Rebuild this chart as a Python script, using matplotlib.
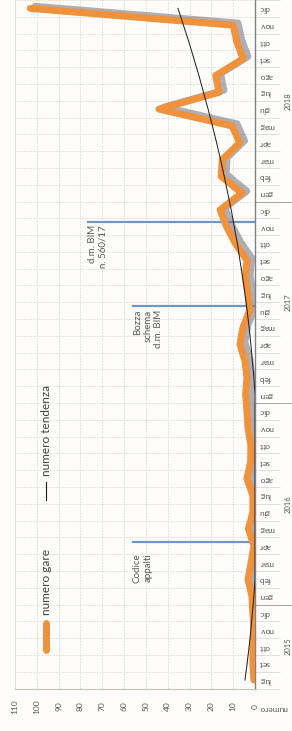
import matplotlib
matplotlib.use('Agg')
import matplotlib.pyplot as plt
import matplotlib.patheffects as pe
import matplotlib.transforms as mtransforms
from matplotlib.lines import Line2D
import numpy as np

# data (months jul 2015 - dec 2018, ago 2015 missing in the source)
months = ['lug', 'set', 'ott', 'nov', 'dic'] + \
         ['gen', 'feb', 'mar', 'apr', 'mag', 'giu', 'lug', 'ago', 'set', 'ott', 'nov', 'dic'] * 3
years = ['2015', '2016', '2017', '2018']
months_per_year = [5, 12, 12, 12]

gare_2015 = [0.5, 1, 1, 0.5, 1]
gare_2016 = [1.4, 3.2, 1.8, 0.5, 3, 1, 1, 3.7, 2, 1.9, 3.2, 3.7]
gare_2017 = [4.3, 3.7, 4.6, 6.9, 5.5, 2.5, 3.2, 4.5, 3.7, 9, 13, 16]
gare_2018 = [6, 15.5, 15, 7, 10.5, 44, 16.5, 18, 5.5, 8.3, 10, 103]
gare = gare_2015 + gare_2016 + gare_2017 + gare_2018

tendenza = [4.6, 3.6, 2.7, 1.9, 1.2, 0.5, 0, 0, 0, 0, 0, 0, 0, 0, 0, 0, 0,
            0, 0.5, 1.2, 1.9, 2.7, 3.6, 4.6, 5.7, 6.9, 8.1, 9.5, 10.9,
            12.5, 14.1, 15.8, 17.6, 19.5, 21.5, 23.6, 25.7, 28.0, 30.3, 32.8, 35.3]

event_labels = ['Codice\nappalti', 'Bozza\nschema\nd.m. BIM', 'd.m. BIM\nn. 560/17']
event_month = [8.25, 22.3, 27.3]
event_height = [56, 56, 76.5]

W, H = 292, 731
orange = '#f0923b'
blue = '#7096c8'
gridc = '#e0d8ce'

plt.rcParams['font.family'] = ['Lato', 'DejaVu Sans']

fig = plt.figure(figsize=(W / 100, H / 100), dpi=100, facecolor='#fefdfb')
ax = fig.add_axes([15 / W, 1 - 688.5 / H, 240 / W, 688.5 / H])
ax.set_facecolor('#fefdfb')

idx = np.arange(len(months))

# serie principale con ombra
ax.plot(gare, idx, color=orange, lw=5, solid_joinstyle='round', solid_capstyle='round',
        path_effects=[pe.SimpleLineShadow(offset=(3.5, 1.5), shadow_color='#6e6e7a', alpha=0.55),
                      pe.Normal()], zorder=4)
ax.plot(tendenza, idx, color='#1a1a1a', lw=0.7, zorder=5)

# eventi
text_gap = [0.7, 0.25, 0.2]
for lab, m, h, g in zip(event_labels, event_month, event_height, text_gap):
    ax.plot([0, h], [m, m], color=blue, lw=1.6, zorder=3)
    ax.text(h, m - g, lab, rotation=90, ha='left', va='top', multialignment='right',
            fontsize=7, color='#595959')

ax.set_xlim(110, 0)
ax.set_ylim(-0.5, -0.5 + 688.5 / 16.95)

ax.set_xticks(range(0, 111, 10))
ax.grid(axis='x', color=gridc, lw=0.6, ls=(0, (2, 1.5)))
ax.set_yticks(idx)
ax.set_yticklabels(months)
ax.set_yticks(np.arange(-0.5, len(months), 1), minor=True)
ax.grid(axis='y', which='minor', color=gridc, lw=0.6, ls=(0, (2, 1.5)))
ax.yaxis.tick_right()
ax.tick_params(axis='y', which='major', length=0, pad=3, labelsize=6, labelrotation=180,
               labelcolor='#595959')
ax.tick_params(axis='y', which='minor', length=18, width=0.6, color='#d9d9d9', right=True, left=False)
ax.tick_params(axis='x', length=0, pad=13, labelsize=6, labelrotation=90, labelcolor='#595959')
for t in ax.get_xticklabels():
    t.set_va('center')

ax.spines['top'].set_visible(False)
ax.spines['left'].set_color(gridc)
ax.spines['left'].set_linewidth(0.6)
ax.spines['bottom'].set_color('#c8c0b5')
ax.spines['bottom'].set_linewidth(0.8)
ax.spines['right'].set_color('#808080')
ax.spines['right'].set_linewidth(1)

# anni e separatori
trans = mtransforms.blended_transform_factory(ax.transAxes, ax.transData)
start = 0
for y, cnt in zip(years, months_per_year):
    ax.text(1.14, start + (cnt - 1) / 2, y, transform=trans, rotation=90, ha='center', va='center',
            fontsize=5.5, color='#595959', clip_on=False)
    if start > 0:
        ax.plot([1.0, 1.16], [start - 0.5, start - 0.5], transform=trans, color='#a6a6a6',
                lw=0.7, clip_on=False)
    start += cnt

fig.text(273 / W, 1 - 708 / H, 'numero', rotation=180, ha='center', va='center',
         fontsize=6, color='#595959')

# legenda
fig.add_artist(Line2D([46 / W, 46 / W], [1 - 623 / H, 1 - 650 / H], color=orange, lw=5,
                      solid_capstyle='round'))
fig.text(46 / W, 1 - 615 / H, 'numero gare', rotation=90, ha='center', va='bottom',
         fontsize=8.5, color='#404040')
fig.add_artist(Line2D([46 / W, 46 / W], [1 - 482 / H, 1 - 500 / H], color='#1a1a1a', lw=0.8))
fig.text(46 / W, 1 - 476 / H, 'numero tendenza', rotation=90, ha='center', va='bottom',
         fontsize=8.5, color='#404040')

fig.savefig('out.png', dpi=100, facecolor=fig.get_facecolor())
